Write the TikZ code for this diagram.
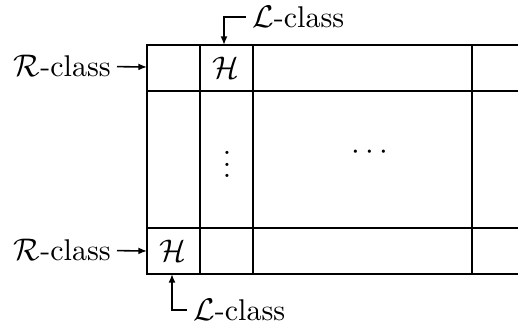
\documentclass[tikz,border=0pt]{standalone}
\usetikzlibrary{arrows.meta}
\begin{document}
\begin{tikzpicture}[x=0.35pt,y=-0.35pt,
  font=\fontsize{10.5}{12.6}\selectfont,
  gridline/.style={line width=0.6pt},
  arr/.style={line width=0.55pt,-{Latex[length=3pt,width=2.4pt]}},
  lbl/.style={inner sep=2pt},
  cell/.style={inner sep=0pt}]
\useasboundingbox (0,0) rectangle (518,328);

% the egg-box: open to the right
\draw[gridline] (518,45) -- (147,45) -- (147,274) -- (518,274);
\draw[gridline] (147,91) -- (518,91);
\draw[gridline] (147,228) -- (518,228);
\foreach \x in {200,253,472} \draw[gridline] (\x,45) -- (\x,274);

% cell contents
\node[cell] (h1) at (226,68) {$\mathcal{H}$};
\node[cell] (h2) at (173,251) {$\mathcal{H}$};
\node[cell] (vd) at (227,156) {$\vdots$};
\node[cell] (cd) at (370,153) {$\cdots$};

% attachment points on the box
\coordinate (rowA) at (147,67);
\coordinate (rowB) at (147,251);
\coordinate (colA) at (224,45);
\coordinate (colB) at (172,274);

% class labels
\node[lbl,anchor=east] (rtop) at (117,66) {$\mathcal{R}$-class};
\node[lbl,anchor=east] (rbot) at (117,250) {$\mathcal{R}$-class};
\node[lbl,anchor=west] (ltop) at (246,17) {$\mathcal{L}$-class};
\node[lbl,anchor=west] (lbot) at (187,310) {$\mathcal{L}$-class};

\draw[arr] (rtop) -- (rowA);
\draw[arr] (rbot) -- (rowB);
\draw[arr] (ltop.west) -- (ltop.west -| colA) -- (colA);
\draw[arr] (lbot.west) -- (lbot.west -| colB) -- (colB);
\end{tikzpicture}
\end{document}
